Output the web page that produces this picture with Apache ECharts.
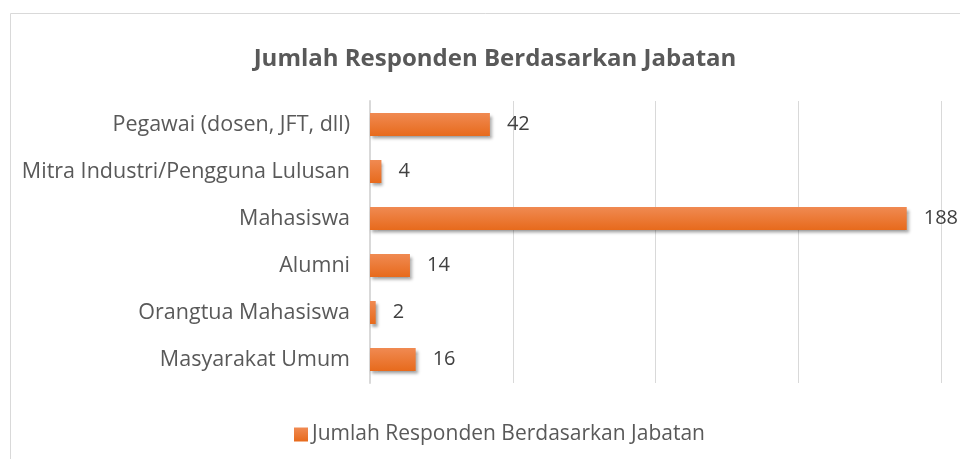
<!DOCTYPE html>
<html>
<head>
<meta charset="utf-8">
<script src="https://cdn.jsdelivr.net/npm/echarts@6/dist/echarts.min.js"></script>
<style>
  html, body { margin: 0; padding: 0; background: #fff; }
  #chart { width: 960px; height: 459px; }
</style>
</head>
<body>
<div id="chart"></div>
<script>
const title = "Jumlah Responden Berdasarkan Jabatan";
const categories = [
  "Pegawai (dosen, JFT, dll)",
  "Mitra Industri/Pengguna Lulusan",
  "Mahasiswa",
  "Alumni",
  "Orangtua Mahasiswa",
  "Masyarakat Umum",
];
const values = [42, 4, 188, 14, 2, 16];

const font = "'Open Sans', sans-serif";
const chart = echarts.init(document.getElementById("chart"), null, { renderer: "canvas" });

chart.setOption({
  animation: false,
  textStyle: { fontFamily: font },
  title: {
    text: title,
    left: 490,
    textAlign: "center",
    top: 42,
    textStyle: { fontSize: 24, fontWeight: "bold", color: "#595959", fontFamily: font },
  },
  graphic: [{
    type: "rect",
    shape: { x: 10.5, y: 13.5, width: 1000, height: 1000 },
    style: { fill: "none", stroke: "#d9d9d9", lineWidth: 1 },
    silent: true,
  }],
  legend: {
    data: [title],
    left: 289,
    top: 419,
    itemWidth: 14,
    itemHeight: 14,
    itemGap: 4,
    icon: "rect",
    textStyle: { fontSize: 21, color: "#595959", fontFamily: font, padding: [0, 0, 0, -1] },
  },
  grid: { left: 370, right: 19, top: 101, bottom: 76, containLabel: false },
  xAxis: {
    type: "value",
    min: 0,
    max: 200,
    interval: 50,
    axisLabel: { show: false },
    axisLine: { show: false },
    axisTick: { show: false },
    splitLine: { show: true, lineStyle: { color: "#d9d9d9", width: 1 } },
  },
  yAxis: {
    type: "category",
    inverse: true,
    data: categories,
    axisLine: { show: true, lineStyle: { color: "#d9d9d9", width: 2 } },
    axisTick: { show: false },
    axisLabel: { fontSize: 21.5, color: "#595959", margin: 20, fontFamily: font },
  },
  series: [{
    name: title,
    type: "bar",
    data: values,
    barWidth: "49%",
    itemStyle: {
      color: new echarts.graphic.LinearGradient(0, 0, 0, 1, [
        { offset: 0, color: "#f08a52" },
        { offset: 1, color: "#e76a1c" },
      ]),
      shadowColor: "rgba(0,0,0,0.35)",
      shadowBlur: 3,
      shadowOffsetX: 2,
      shadowOffsetY: 3,
    },
    label: {
      show: true,
      position: "right",
      distance: 17,
      fontSize: 20,
      color: "#404040",
      fontFamily: font,
    },
  }],
});
</script>
</body>
</html>
